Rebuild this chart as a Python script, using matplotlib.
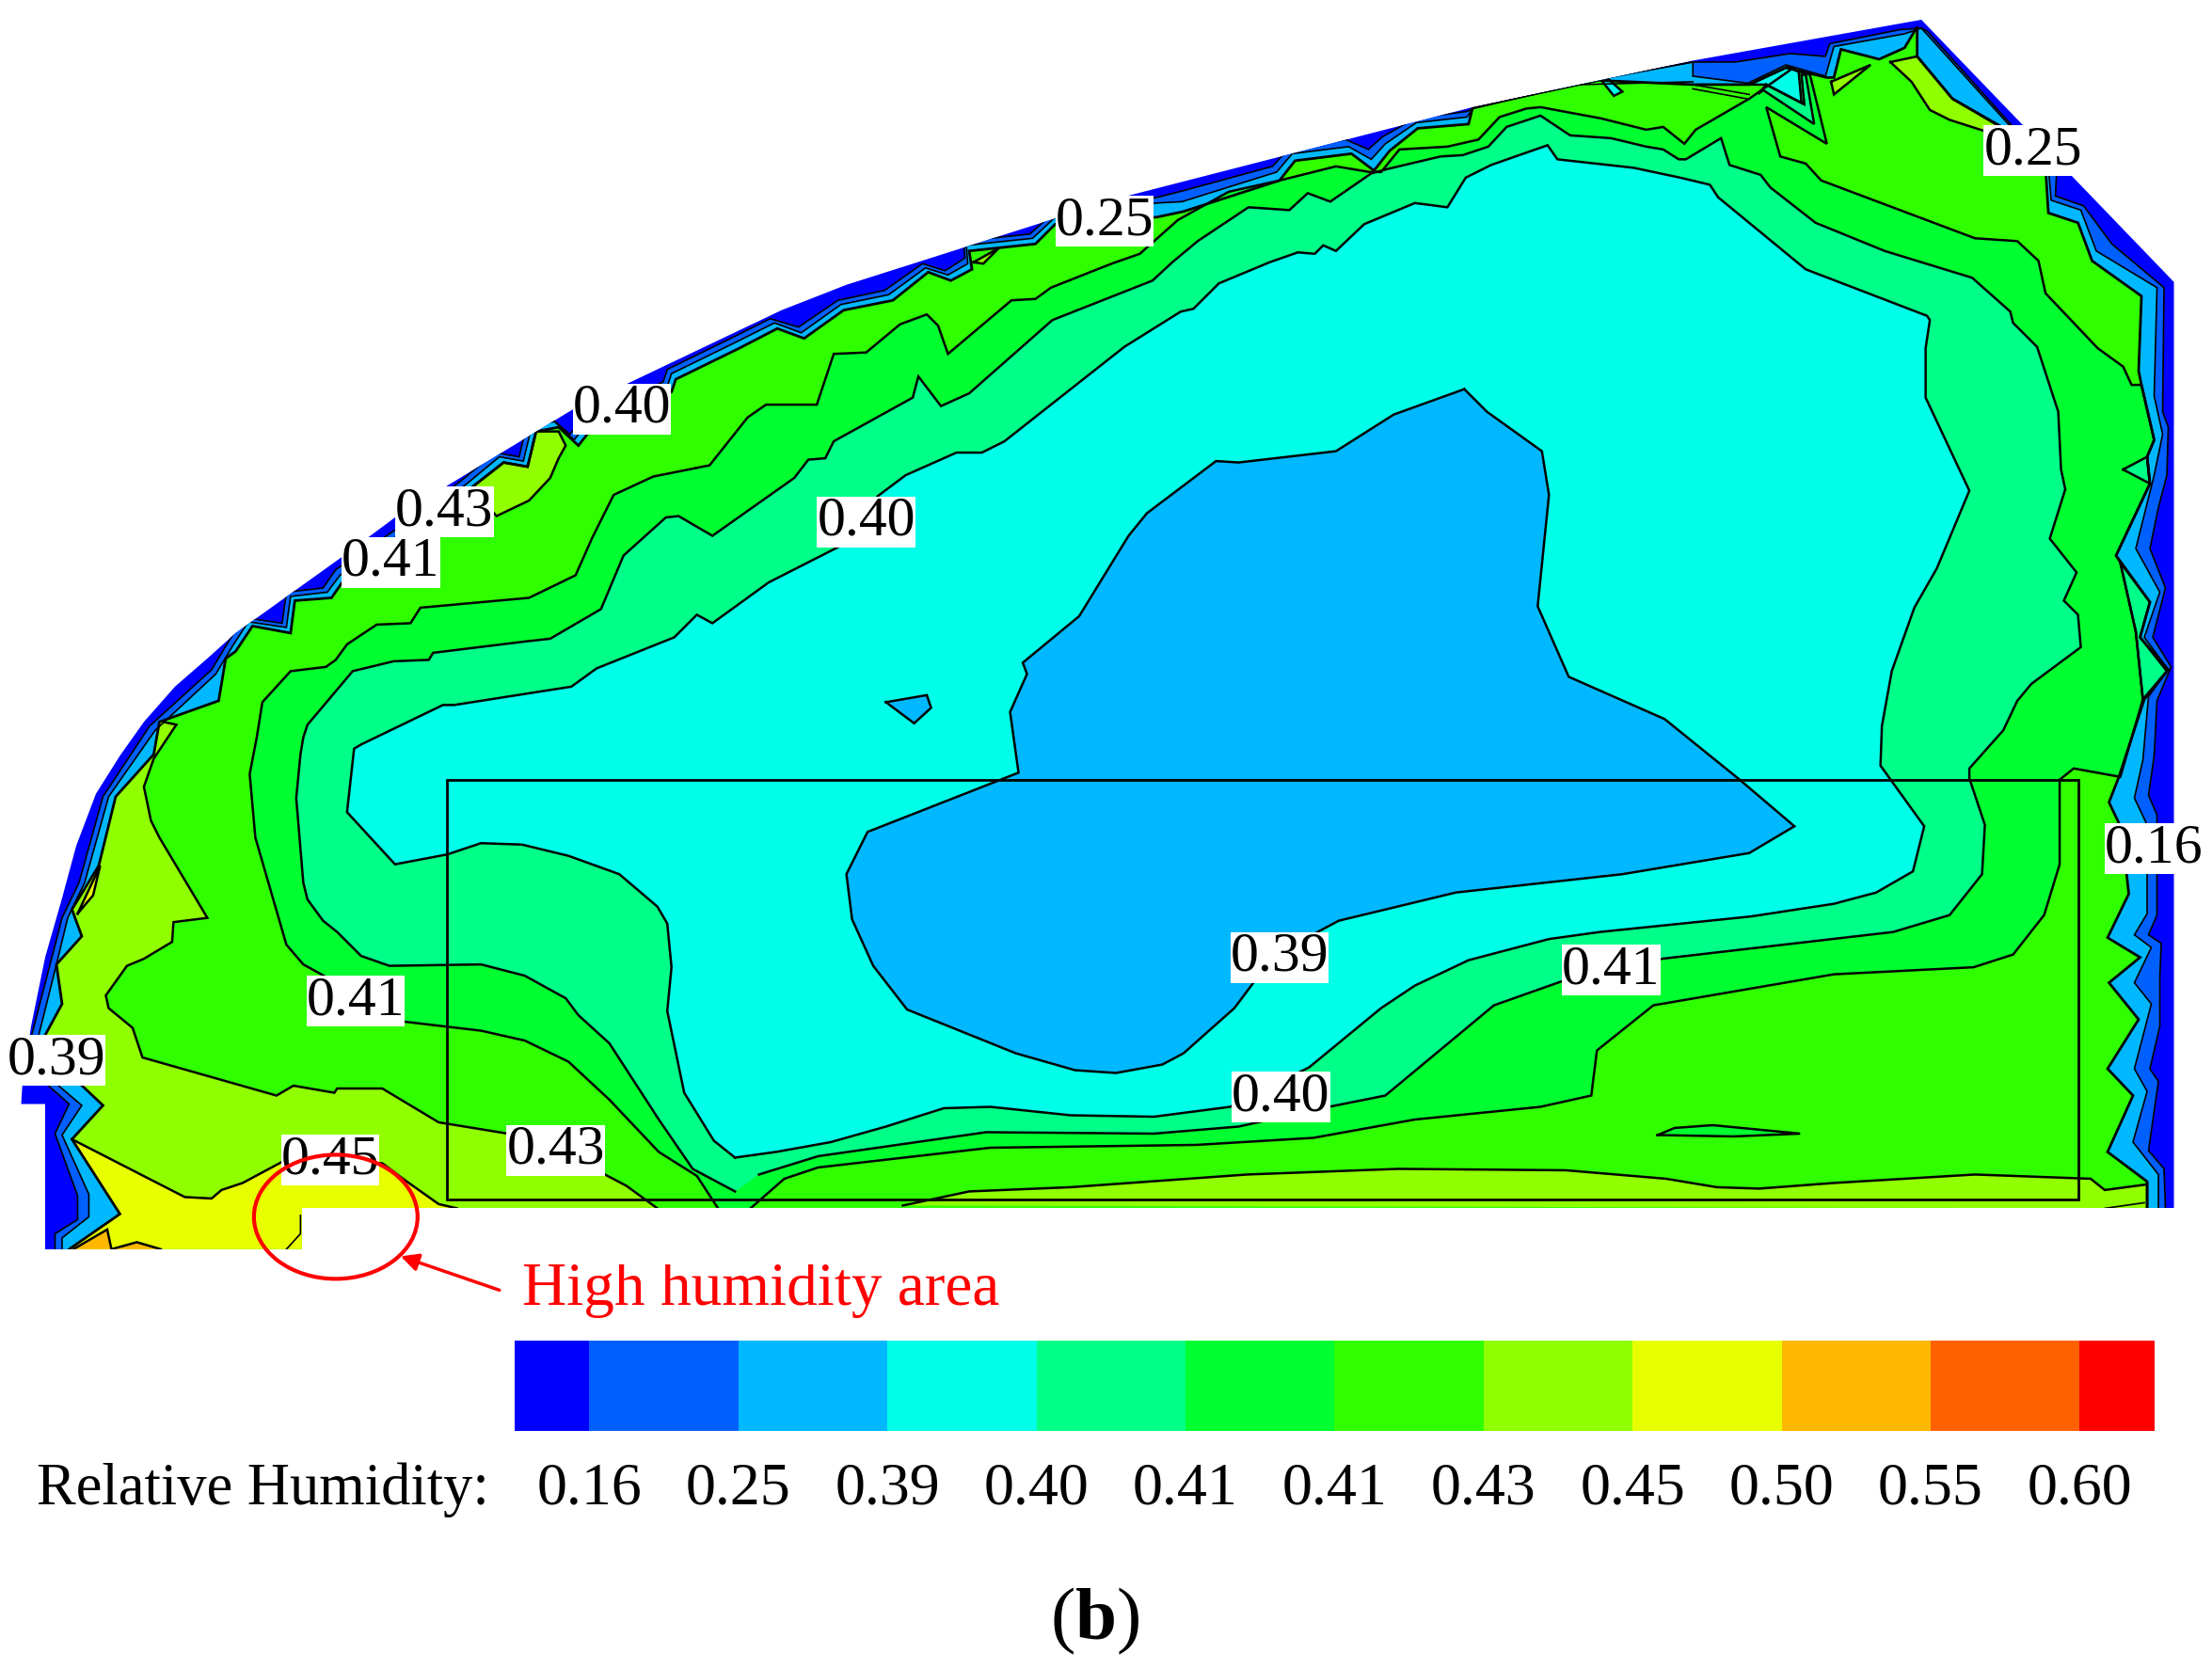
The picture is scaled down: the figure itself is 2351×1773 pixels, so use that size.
import numpy as np
from matplotlib import pyplot as plt
from matplotlib.colors import ListedColormap
from matplotlib.patches import Ellipse, Polygon, Rectangle

plt.rcParams['font.family'] = ['Liberation Serif', 'DejaVu Sans']
plt.rcParams['mathtext.fontset'] = 'custom'
plt.rcParams['mathtext.bf'] = 'Liberation Serif:bold'

# legend
levels = ['0.16', '0.25', '0.39', '0.40', '0.41', '0.41', '0.43', '0.45', '0.50', '0.55', '0.60']
colors = ['#0000ff', '#0060ff', '#00b8ff', '#00ffe8', '#00ff88', '#00ff30',
          '#30ff00', '#90ff00', '#e8ff00', '#ffb800', '#ff6000', '#ff0000']

# contour paths (x, y in picture units, 1568x1183)
outline = [(32, 886), (32, 783), (15, 783), (16, 767), (22, 728), (32, 679), (44, 637), (54, 600), (68, 563),
           (85, 536), (102, 512), (124, 487),
           (147, 467), (167, 449), (241, 396), (280, 367), (405, 291), (554, 220), (600, 202), (795, 140),
           (1044, 76), (1167, 50), (1200, 43), (1362, 14), (1541, 200), (1541, 857), (214, 857), (214, 886)]
band_016 = [(39, 886), (39, 875), (55, 865), (55, 848), (39, 804), (49, 783), (31, 767), (22, 736), (36, 682),
            (44, 651), (56, 626), (73, 565), (106, 515), (150, 475), (162, 455), (173, 438), (200, 442),
            (203, 420), (229, 417), (238, 404), (289, 370), (328, 340), (351, 321), (368, 324), (374, 299),
            (390, 296), (404, 308), (415, 294), (470, 271), (473, 262), (518, 240), (546, 226), (566, 232),
            (594, 213), (627, 206), (654, 187), (670, 192), (684, 183), (683, 171), (730, 166), (748, 150),
            (820, 140), (836, 136), (902, 118), (914, 105), (954, 99), (970, 106), (980, 97), (1003, 84),
            (1040, 79), (1044, 77), (1130, 56),
            (1200, 44), (1230, 44), (1269, 38), (1294, 40), (1297, 31), (1347, 21), (1362, 20), (1366, 22),
            (1427, 90), (1458, 119), (1457, 139), (1477, 146), (1497, 173), (1534, 204), (1533, 292),
            (1537, 303), (1536, 337), (1530, 360), (1524, 389), (1535, 417), (1526, 452), (1539, 473),
            (1529, 497), (1527, 536), (1523, 564), (1529, 578), (1529, 649), (1523, 663), (1532, 669),
            (1531, 693), (1531, 728), (1524, 758), (1530, 767), (1523, 816), (1534, 829), (1535, 857)]
band_025 = [(44, 886), (44, 878), (63, 863), (63, 847), (44, 805), (58, 784), (38, 767), (27, 736), (40, 684),
            (48, 651), (60, 626), (77, 565), (110, 518), (153, 478), (165, 458), (176, 441), (203, 445),
            (206, 423), (232, 420), (241, 408), (292, 373), (331, 343), (354, 324), (371, 327), (377, 302),
            (393, 299), (407, 312), (418, 298), (473, 274), (476, 265), (521, 243), (549, 229), (568, 236),
            (596, 216), (630, 209), (656, 190), (672, 195), (686, 187), (685, 174), (732, 169), (748, 154),
            (820, 144), (838, 143), (905, 122), (916, 109), (956, 104), (972, 113), (982, 102), (1004, 87),
            (1040, 83), (1044, 77), (1130, 57),
            (1200, 44), (1200, 54), (1239, 59), (1266, 46), (1294, 54), (1300, 33), (1350, 24), (1362, 20),
            (1419, 83), (1452, 119), (1454, 142), (1475, 149), (1486, 178), (1529, 204), (1527, 281),
            (1533, 308), (1527, 337), (1514, 389), (1531, 420), (1520, 452), (1537, 475), (1523, 494),
            (1519, 539), (1513, 566), (1522, 585), (1522, 648), (1513, 663), (1525, 672), (1513, 697),
            (1525, 712), (1513, 758), (1522, 774), (1512, 810), (1530, 833), (1530, 857)]
band_043 = [(49, 886), (85, 861), (51, 808), (73, 784), (55, 767), (31, 736), (44, 712), (40, 684), (58, 664),
            (51, 645), (70, 614), (82, 565), (109, 535), (113, 512), (155, 497), (160, 467), (167, 462),
            (179, 444), (206, 449), (209, 426), (235, 424), (244, 411), (295, 377), (334, 346), (357, 328),
            (374, 331), (380, 306), (396, 303), (410, 316), (421, 302), (476, 278), (479, 269), (524, 247),
            (551, 233), (570, 240), (598, 220), (633, 213), (658, 193), (674, 199), (689, 191), (687, 178),
            (734, 173), (748, 159), (820, 154), (839, 150), (907, 128), (918, 114), (958, 109), (974, 121),
            (985, 107), (1005, 91), (1041, 88), (1044, 76), (1133, 57), (1200, 60), (1240, 60), (1266, 48),
            (1295, 55), (1300, 55), (1305, 35), (1332, 42), (1350, 34), (1359, 19), (1359, 40), (1384, 70),
            (1419, 90), (1450, 119), (1452, 151), (1473, 158), (1483, 185), (1518, 210), (1516, 263),
            (1518, 273), (1527, 312), (1522, 324), (1524, 343), (1500, 394), (1524, 427), (1517, 452),
            (1537, 475), (1520, 496), (1502, 551), (1495, 569), (1504, 588), (1509, 634), (1494, 665),
            (1517, 679), (1495, 697), (1516, 723), (1494, 758), (1512, 777), (1494, 817), (1522, 838),
            (1522, 857)]
band_045 = [(466, 857), (444, 841), (425, 831), (360, 804), (311, 796), (271, 772), (239, 772), (237, 775),
            (208, 770), (196, 777), (101, 750), (94, 729), (77, 715), (75, 706), (90, 685), (102, 680),
            (122, 668), (123, 654), (147, 651), (113, 594), (107, 582), (102, 558), (109, 538), (125, 514),
            (116, 512)]
band_045_rest = [(113, 512), (109, 535), (82, 565), (70, 614), (51, 645), (58, 664), (40, 684), (44, 712),
                 (31, 736), (55, 767), (73, 784), (51, 808), (85, 861), (49, 886), (214, 886), (214, 857)]
band_050 = [(51, 808), (131, 849), (150, 850), (157, 844), (172, 839), (200, 824), (271, 825), (287, 837),
            (311, 854), (324, 857)]
band_050_rest = [(214, 857), (214, 886), (49, 886), (85, 861)]
band_055_a = [(52, 886), (76, 872), (79, 886)]
band_055_b = [(79, 886), (97, 881), (114, 886)]
strip_045 = [(640, 855), (687, 845), (759, 842), (884, 833), (991, 829), (1110, 830), (1181, 836), (1217, 842),
             (1247, 843), (1300, 839), (1400, 833), (1482, 836), (1492, 844), (1522, 840), (1522, 857)]
level_041b = [(509, 857), (494, 834), (467, 817), (432, 780), (403, 753), (372, 738), (341, 731), (273, 723),
              (235, 695), (215, 684), (203, 670), (181, 594), (177, 549), (182, 523), (186, 498), (206, 476),
              (231, 473), (238, 468), (246, 457), (267, 443), (291, 442), (298, 431), (375, 424), (408, 408),
              (420, 381), (435, 351), (463, 338), (503, 330), (530, 296), (543, 287), (579, 287), (591, 251),
              (614, 250), (638, 230), (657, 223), (665, 231), (672, 251), (717, 213), (734, 212), (745, 204),
              (788, 187), (808, 180), (835, 156), (871, 136), (907, 128), (947, 118), (971, 122), (979, 122),
              (992, 106), (1026, 104), (1048, 99), (1063, 83), (1082, 77), (1092, 76), (1135, 84), (1167, 92),
              (1179, 90), (1194, 102), (1202, 92), (1240, 70), (1270, 49), (1283, 53), (1295, 102), (1252, 76),
              (1262, 111), (1280, 116), (1291, 128), (1400, 169), (1430, 171), (1445, 185), (1450, 208),
              (1487, 247), (1505, 260), (1511, 273), (1518, 273), (1527, 312), (1522, 324), (1524, 343),
              (1500, 394), (1503, 399), (1514, 448), (1519, 496), (1503, 551), (1470, 545), (1460, 553),
              (1460, 613), (1449, 649), (1427, 677), (1399, 686), (1300, 691), (1172, 713), (1132, 745),
              (1128, 777), (1092, 785), (1003, 794), (931, 807), (848, 812), (702, 814), (580, 828), (556, 836),
              (532, 857)]
level_041a = [(521, 845), (491, 829), (467, 794), (432, 740), (410, 720), (401, 708), (372, 692), (341, 684),
              (276, 685), (256, 678), (239, 661), (229, 653), (218, 638), (215, 626), (210, 566), (213, 535),
              (215, 523), (218, 514), (250, 476), (279, 469), (304, 468), (307, 463), (372, 455), (390, 453),
              (426, 432), (442, 394), (472, 367), (481, 366), (505, 380), (563, 339), (573, 326), (585, 325),
              (591, 313), (600, 308), (647, 282), (651, 267), (667, 288), (687, 279), (746, 227), (817, 199),
              (831, 186), (849, 171), (885, 147), (914, 149), (927, 137), (943, 143), (972, 123), (983, 120),
              (1021, 111), (1037, 110), (1055, 104), (1068, 90), (1092, 82), (1113, 96), (1142, 98), (1167, 104),
              (1179, 106), (1190, 113), (1195, 113), (1220, 98), (1226, 117), (1248, 124), (1255, 133),
              (1287, 158), (1336, 178), (1398, 197), (1425, 221), (1427, 229), (1444, 246), (1459, 292),
              (1461, 333), (1464, 347), (1453, 382), (1472, 406), (1463, 426), (1473, 436), (1475, 459),
              (1440, 485), (1430, 497), (1420, 518), (1396, 545), (1396, 552), (1407, 585), (1405, 620),
              (1382, 649), (1342, 661), (1178, 680), (1107, 696), (1059, 713), (982, 777), (937, 786), (878, 799),
              (818, 804), (699, 803), (580, 820), (538, 833)]
level_040 = [(521, 821), (506, 809), (485, 775), (473, 717), (476, 686), (473, 655), (466, 643),
             (439, 620), (403, 607), (370, 599), (341, 598), (317, 606), (280, 613), (246, 576), (251, 531),
             (256, 528), (314, 500), (322, 500), (405, 487), (423, 474), (478, 452), (494, 436), (505, 442),
             (545, 413), (604, 383), (622, 352), (642, 337), (678, 321), (696, 321), (712, 313), (797, 246),
             (837, 221), (846, 219), (864, 201), (900, 186), (920, 179), (932, 180), (938, 174), (947, 178),
             (967, 159), (1003, 144), (1026, 147), (1039, 126), (1057, 117), (1097, 103), (1104, 113),
             (1158, 119), (1191, 126), (1212, 131), (1218, 140), (1280, 191),
             (1366, 224), (1368, 227), (1365, 247), (1365, 282), (1396, 348), (1373, 403), (1357, 431),
             (1341, 476), (1334, 515), (1333, 543), (1364, 586), (1356, 618), (1330, 633), (1300, 641),
             (1241, 650), (1134, 661), (1098, 666), (1041, 681), (1003, 699), (979, 715), (928, 757), (872, 785),
             (818, 792), (759, 791), (702, 785), (669, 786), (628, 799), (589, 810), (550, 817)]
level_039 = [(1038, 276), (1054, 292), (1093, 320), (1098, 351), (1090, 430), (1112, 480), (1180, 510), (1232, 552),
             (1272, 586), (1240, 605), (1150, 620), (1032, 633), (949, 653), (934, 661), (893, 691), (875, 715),
             (839, 747), (824, 755), (791, 761), (762, 759), (720, 747), (643, 716), (619, 685), (604, 652),
             (600, 620), (615, 590), (722, 548), (716, 505), (728, 478), (725, 470), (765, 437), (800, 380),
             (813, 364), (862, 327), (878, 328), (947, 320), (988, 294)]

# small closed islands: (points, colour index)
islands = [
    ([(628, 498), (657, 493), (660, 502), (648, 513)], 2),
    ([(1175, 805), (1187, 800), (1214, 798), (1276, 804), (1229, 806)], 5),
    ([(1247, 66), (1250, 64), (1286, 88), (1280, 53), (1277, 53), (1279, 74), (1252, 60)], 4),
    ([(1252, 60), (1277, 73), (1275, 51), (1268, 47), (1240, 60)], 3),
    ([(1340, 44), (1359, 40), (1384, 70), (1418, 90), (1407, 93), (1382, 85), (1368, 78), (1355, 58)], 7),
    ([(1298, 58), (1326, 46), (1300, 67)], 7),
    ([(334, 346), (357, 328), (374, 331), (380, 306), (396, 306), (401, 316), (396, 325), (390, 339), (375, 355),
      (352, 366)], 7),
    ([(55, 648), (71, 614), (66, 635)], 8),
    ([(1503, 399), (1514, 448), (1519, 496), (1536, 476), (1517, 452), (1524, 427)], 4),
    ([(1505, 333), (1522, 324), (1524, 343)], 4),
    ([(1140, 56), (1150, 65), (1144, 68), (1136, 58)], 3),
    ([(690, 186), (708, 176), (697, 187)], 7),
]
extra_lines = [[(1200, 60), (1240, 67)], [(1200, 63), (1238, 70)], [(213, 862), (213, 875), (203, 886)],
               [(1120, 60), (1200, 58)], [(1492, 857), (1520, 853)]]

# labels on the contours
label_text = ['0.25', '0.25', '0.40', '0.43', '0.41', '0.40', '0.16', '0.39', '0.41', '0.41', '0.39', '0.40',
              '0.43', '0.45']
label_x = [783, 1441, 441, 315, 277, 614, 1527, 907, 1142, 252, 40, 908, 394, 234]
label_y = [157, 107, 290, 363, 399, 370, 602, 679, 688, 710, 752, 778, 816, 823]

fig = plt.figure(figsize=(23.51, 17.73), dpi=100)
ax = fig.add_axes([0, 0, 1, 1])
ax.set_xlim(0, 1568)
ax.set_ylim(1183, 0)
ax.axis('off')

domain = Polygon(outline, closed=True, fc=colors[0], ec='none')
ax.add_patch(domain)


# fill a region, black line only along the contour part
def layer(line, color, rest=(), closed=False, lw=1.8):
    pts = np.array(list(line) + list(rest))
    for a in ax.fill(pts[:, 0], pts[:, 1], color=color, lw=0):
        a.set_clip_path(domain)
    pl = np.array(list(line) + [line[0]]) if closed else np.array(line)
    for a in ax.plot(pl[:, 0], pl[:, 1], color='k', lw=lw, solid_joinstyle='miter'):
        a.set_clip_path(domain)


bottom = [(214, 857), (214, 886)]
layer(band_016, colors[1], bottom, lw=1.2)
layer(band_025, colors[2], bottom, lw=1.2)
layer(band_043, colors[6], bottom, lw=2.0)
layer(band_045, colors[7], band_045_rest)
layer(band_050, colors[8], band_050_rest)
layer(band_055_a, colors[9])
layer(band_055_b, colors[9])
layer(strip_045, colors[7])
layer(level_041b, colors[5])
layer(level_041a, colors[4])
layer(level_040, colors[3], closed=True)
layer(level_039, colors[2], closed=True)
for pts, c in islands:
    layer(pts, colors[c], closed=True)
for pts in extra_lines:
    p = np.array(pts)
    for a in ax.plot(p[:, 0], p[:, 1], color='k', lw=1.2):
        a.set_clip_path(domain)

# white over the stacked edges so no dark fringe stays along the bottom
ax.add_patch(Rectangle((214, 857), 1354, 40, fc='white', ec='none', zorder=4))
ax.add_patch(Rectangle((0, 886), 214, 12, fc='white', ec='none', zorder=4))

ax.add_patch(Rectangle((317, 553), 1156, 298, fill=False, ec='k', lw=2, zorder=5))

for t, x, y in zip(label_text, label_x, label_y):
    ax.text(x, y, t, fontsize=43, ha='center', va='center', zorder=6,
            bbox=dict(fc='white', ec='none', pad=0))

# high humidity mark
ax.add_patch(Ellipse((238, 863), 116, 88, fill=False, ec='#ff0000', lw=3, zorder=7))
ax.annotate('', xy=(284, 891), xytext=(354, 915), zorder=7,
            arrowprops=dict(arrowstyle='-|>', color='#ff0000', lw=2.5, mutation_scale=28, shrinkA=0, shrinkB=0))
ax.text(370, 915, 'High humidity area', color='#ff0000', fontsize=47, va='center', ha='left')

ax.text(26, 1057, 'Relative Humidity:', fontsize=45, va='center', ha='left')
ax.text(776, 1150, r'($\mathbf{b}$)', fontsize=57, va='center', ha='center')

# colour bar
cax = fig.add_axes([365 / 1568, 1 - 1015 / 1183, 1162 / 1568, 64 / 1183])
edges = np.concatenate([[-0.5], np.arange(len(levels)), [len(levels) - 0.5]])
cax.pcolormesh(edges, [0, 1], np.arange(len(colors)).reshape(1, -1), cmap=ListedColormap(colors))
cax.set_xticks(np.arange(len(levels)), levels, fontsize=46)
cax.set_yticks([])
cax.tick_params(axis='x', length=0, pad=24)
for s in cax.spines.values():
    s.set_visible(False)

fig.savefig('out.png', dpi=100)
